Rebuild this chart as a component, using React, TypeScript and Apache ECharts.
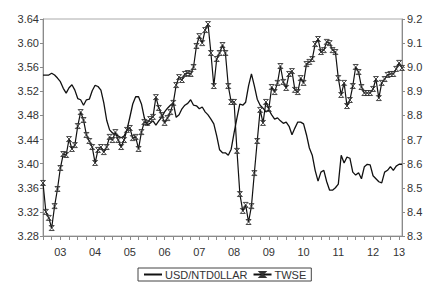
import React, { useEffect, useRef } from "react";
import * as echarts from "echarts";

const monthsCount = 125;
const months: string[] = [];
for (let i = 0; i < monthsCount; i++) {
  const y = 2003 + Math.floor(i / 12);
  const m = (i % 12) + 1;
  months.push(`${y}-${m < 10 ? "0" + m : m}`);
}

const leftTicks = { min: 3.28, max: 3.64, step: 0.04 };
const rightTicks = { min: 8.3, max: 9.2, step: 0.1 };

const usdNtd = [
  3.547, 3.547, 3.547, 3.55, 3.547, 3.542, 3.536, 3.525, 3.517, 3.526, 3.531, 3.522,
  3.508, 3.506, 3.497, 3.506, 3.507, 3.521, 3.53, 3.528, 3.522, 3.501, 3.472, 3.456,
  3.451, 3.448, 3.446, 3.443, 3.446, 3.456, 3.477, 3.499, 3.511, 3.511, 3.499, 3.476,
  3.464, 3.467, 3.471, 3.464, 3.471, 3.477, 3.486, 3.492, 3.497, 3.501, 3.477, 3.481,
  3.491, 3.497, 3.5, 3.506, 3.497, 3.496, 3.491, 3.494, 3.486, 3.481, 3.474, 3.466,
  3.446, 3.423, 3.418, 3.418, 3.414, 3.424, 3.451, 3.476, 3.499, 3.497, 3.502, 3.529,
  3.549, 3.529, 3.507, 3.497, 3.492, 3.486, 3.489, 3.481, 3.474, 3.476, 3.471, 3.467,
  3.469, 3.462, 3.448, 3.459, 3.469, 3.469, 3.466, 3.448, 3.426, 3.414, 3.389, 3.371,
  3.386, 3.389, 3.37, 3.356, 3.356, 3.36, 3.366, 3.414, 3.401, 3.411, 3.409, 3.386,
  3.381, 3.385, 3.375, 3.395, 3.399, 3.398, 3.38, 3.375, 3.37, 3.368, 3.386, 3.389,
  3.395, 3.389, 3.396, 3.399, 3.399,
];

const twse = [
  8.52, 8.4, 8.375, 8.333, 8.424, 8.495, 8.582, 8.64, 8.636, 8.702, 8.661, 8.677,
  8.756, 8.814, 8.781, 8.719, 8.694, 8.669, 8.603, 8.657, 8.669, 8.648, 8.669, 8.711,
  8.698, 8.731, 8.698, 8.669, 8.698, 8.74, 8.748, 8.706, 8.711, 8.661, 8.731, 8.773,
  8.769, 8.785, 8.794, 8.876, 8.831, 8.802, 8.769, 8.789, 8.814, 8.852, 8.926, 8.959,
  8.947, 8.972, 8.976, 8.972, 9.001, 9.088, 9.129, 9.1, 9.154, 9.179, 9.059, 8.922,
  9.034, 9.059, 9.092, 9.059, 8.922, 8.856, 8.856, 8.653, 8.474, 8.404, 8.429, 8.358,
  8.424, 8.561, 8.694, 8.823, 8.769, 8.856, 8.827, 8.918, 8.897, 8.935, 9.005, 8.939,
  8.914, 8.972, 8.984, 8.906, 8.897, 8.955, 8.935, 9.013, 9.022, 9.034, 9.096, 9.117,
  9.063, 9.071, 9.105, 9.1, 9.071, 9.063, 8.955, 8.885, 8.935, 8.839, 8.864, 8.922,
  9.001, 8.98, 8.918, 8.893, 8.893, 8.893, 8.91, 8.951, 8.872, 8.935, 8.951, 8.968,
  8.972, 8.972, 8.993, 9.018, 8.997,
];

const seriesNames = ["USD/NTD0LLAR", "TWSE"];

const FONT = "'Liberation Sans', Arial, sans-serif";
const TEXT = "#333";
const AXIS = "#8a8a8a";
const LINE = "#111";

export default function App() {
  const ref = useRef<HTMLDivElement>(null);
  useEffect(() => {
    if (!ref.current) return;
    const chart = echarts.init(ref.current, undefined, { renderer: "svg" });
    const last = months.length - 1;
    chart.setOption({
      animation: false,
      backgroundColor: "#fff",
      textStyle: { fontFamily: FONT },
      grid: {
        left: 43,
        right: 24,
        top: 19,
        bottom: 46,
        show: true,
        borderColor: "#aaa",
        borderWidth: 1,
      },
      legend: {
        bottom: 1,
        left: 138,
        data: [
          { name: seriesNames[0], itemStyle: { color: "rgba(0,0,0,0)", borderWidth: 0 } },
          { name: seriesNames[1] },
        ],
        borderColor: "#444",
        borderWidth: 1,
        padding: [1, 5, 1, 5],
        itemGap: 5,
        itemWidth: 18,
        itemHeight: 6,
        textStyle: { fontFamily: FONT, fontSize: 11, color: TEXT, padding: [0, 0, 0, -2] },
      },
      xAxis: {
        type: "category",
        data: months,
        boundaryGap: false,
        axisLine: { lineStyle: { color: AXIS } },
        axisTick: {
          show: true,
          length: 4,
          interval: (i: number) => i % 3 === 0,
          lineStyle: { color: AXIS },
        },
        axisLabel: {
          interval: (i: number) => (i % 12 === 6 && i < last - 3) || i === last - 1,
          formatter: (v: string) => v.slice(2, 4),
          color: TEXT,
          fontSize: 11,
          fontFamily: FONT,
          margin: 10,
        },
        splitLine: { show: false },
      },
      yAxis: [
        {
          type: "value",
          min: leftTicks.min,
          max: leftTicks.max,
          interval: leftTicks.step,
          position: "left",
          axisLine: { show: true, lineStyle: { color: AXIS } },
          axisTick: { show: true, length: 3, lineStyle: { color: AXIS } },
          axisLabel: {
            formatter: (v: number) => v.toFixed(2),
            color: TEXT,
            fontSize: 11,
            fontFamily: FONT,
            margin: 4,
          },
          splitLine: { show: false },
        },
        {
          type: "value",
          min: rightTicks.min,
          max: rightTicks.max,
          interval: rightTicks.step,
          position: "right",
          axisLine: { show: true, lineStyle: { color: AXIS } },
          axisTick: { show: true, length: 3, lineStyle: { color: AXIS } },
          axisLabel: {
            formatter: (v: number) => v.toFixed(1),
            color: TEXT,
            fontSize: 11,
            fontFamily: FONT,
            margin: 5,
          },
          splitLine: { show: false },
        },
      ],
      series: [
        {
          name: seriesNames[0],
          type: "line",
          yAxisIndex: 0,
          data: usdNtd,
          showSymbol: false,
          symbol: "none",
          lineStyle: { color: LINE, width: 1.3 },
          itemStyle: { color: LINE },
        },
        {
          name: seriesNames[1],
          type: "line",
          yAxisIndex: 1,
          data: twse,
          symbol: "path://M0,0L10,0L0,10L10,10Z",
          symbolSize: 5,
          showAllSymbol: true,
          lineStyle: { color: LINE, width: 1.2 },
          itemStyle: { color: "rgba(0,0,0,0)", borderColor: "#333", borderWidth: 0.9 },
        },
      ],
    });
    return () => chart.dispose();
  }, []);
  return (
    <div
      ref={ref}
      style={{ position: "absolute", left: 0, top: 0, width: 426, height: 282 }}
    />
  );
}
